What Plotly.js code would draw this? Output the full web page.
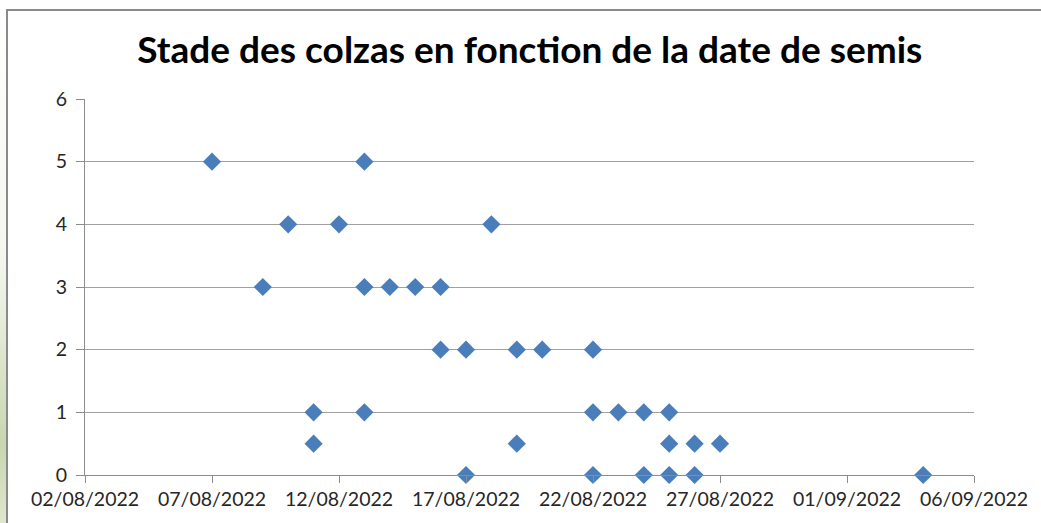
<!DOCTYPE html>
<html>
<head>
<meta charset="utf-8">
<script src="https://cdn.plot.ly/plotly-3.0.1.min.js"></script>
<style>
  html, body { margin: 0; padding: 0; background: #ffffff; }
  #wrap { position: relative; width: 1041px; height: 523px; overflow: hidden; background: #ffffff; }
  #strip { position: absolute; left: 0; top: 0; width: 6px; height: 523px;
           background: linear-gradient(to bottom, #ffffff 0%, #f4f6ee 50%, #c9d6b0 85%, #dfe6cf 100%); }
  #frame { position: absolute; left: 6px; top: 9px; width: 1100px; height: 600px;
           border-left: 2px solid #8a8a8a; border-top: 2px solid #8a8a8a; }
  #chart { position: absolute; left: 0; top: 0; width: 1041px; height: 523px; }
</style>
</head>
<body>
<div id="wrap">
  <div id="strip"></div>
  <div id="frame"></div>
  <div id="chart"></div>
</div>
<script>
// Sowing dates and rapeseed stage values
const sowingDates = [
  '2022-08-07', '2022-08-09', '2022-08-10', '2022-08-11', '2022-08-11',
  '2022-08-12', '2022-08-13', '2022-08-13', '2022-08-13', '2022-08-14',
  '2022-08-15', '2022-08-16', '2022-08-16', '2022-08-17', '2022-08-17',
  '2022-08-18', '2022-08-19', '2022-08-19', '2022-08-20', '2022-08-22',
  '2022-08-22', '2022-08-22', '2022-08-23', '2022-08-24', '2022-08-24',
  '2022-08-25', '2022-08-25', '2022-08-25', '2022-08-26', '2022-08-26',
  '2022-08-27', '2022-09-04'
];
const stages = [
  5, 3, 4, 1, 0.5,
  4, 5, 3, 1, 3,
  3, 3, 2, 2, 0,
  4, 2, 0.5, 2, 2,
  1, 0, 1, 1, 0,
  1, 0.5, 0, 0.5, 0,
  0.5, 0
];
const xRange = ['2022-08-02', '2022-09-06'];
const yTicks = [0, 1, 2, 3, 4, 5, 6];
const chartTitle = 'Stade des colzas en fonction de la date de semis';

const trace = {
  type: 'scatter',
  mode: 'markers',
  x: sowingDates,
  y: stages,
  marker: { symbol: 'diamond', size: 14, color: '#4a7ebb', line: { width: 0 } },
  cliponaxis: false,
  hoverinfo: 'x+y'
};

const layout = {
  width: 1041,
  height: 523,
  margin: { l: 85, r: 67, t: 99, b: 48 },
  paper_bgcolor: 'rgba(0,0,0,0)',
  plot_bgcolor: 'rgba(0,0,0,0)',
  showlegend: false,
  font: { family: 'Lato, Open Sans, sans-serif', color: '#303030' },
  title: {
    text: '<b>' + chartTitle + '</b>',
    x: 0.509, xanchor: 'center',
    y: 0.905, yanchor: 'middle',
    font: { family: 'Lato, sans-serif', size: 37, color: '#000000' }
  },
  xaxis: {
    type: 'date',
    range: xRange,
    tick0: xRange[0],
    dtick: 5 * 24 * 3600 * 1000,
    tickformat: '%d/%m/%Y',
    showgrid: false,
    zeroline: false,
    showline: true,
    linecolor: '#8c8c8c',
    linewidth: 1,
    ticks: 'outside',
    ticklen: 7,
    tickcolor: '#8c8c8c',
    tickfont: { size: 19.5, color: '#262626' },
    fixedrange: true
  },
  yaxis: {
    range: [0, 6],
    tickvals: yTicks,
    showgrid: true,
    gridcolor: '#a0a0a0',
    gridwidth: 1,
    zeroline: false,
    showline: true,
    linecolor: '#8c8c8c',
    linewidth: 1,
    ticks: 'outside',
    ticklen: 8,
    tickcolor: '#8c8c8c',
    ticklabelstandoff: 5,
    tickfont: { size: 19.5, color: '#262626' },
    fixedrange: true
  }
};

Plotly.newPlot('chart', [trace], layout, { displayModeBar: false, staticPlot: true });
</script>
</body>
</html>
